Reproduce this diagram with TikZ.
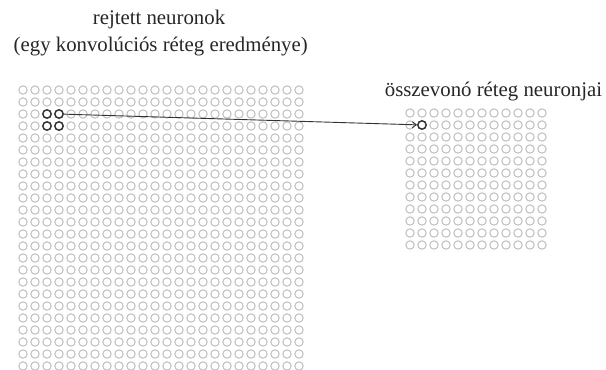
\documentclass[tikz,border=0pt]{standalone}
\usepackage{fontspec}
\setmainfont{Liberation Serif}
\usetikzlibrary{arrows.meta}
\begin{document}
\begin{tikzpicture}[x=1pt,y=-1pt,
  neuron/.style={circle,draw=black!25,line width=1pt,minimum size=8.4pt,inner sep=0pt},
  active/.style={draw=black!80,line width=1.5pt},
  lbl/.style={font=\fontsize{20.8}{27}\selectfont,text=black!85,inner sep=0pt,anchor=base},
  link/.style={draw=black!80,line width=0.9pt,-{Straight Barb[length=4pt,width=6pt]}}]
\useasboundingbox (0,0) rectangle (606,370);
% hidden layer 24x24
\foreach \i in {0,...,23}{\foreach \j in {0,...,23}{
  \pgfmathtruncatemacro\on{and(\i>1,\i<4)*and(\j>1,\j<4)}
  \ifnum\on=1
    \node[neuron,active] (h-\i-\j) at ({23+12*\i},{90+12*\j}) {};
  \else
    \node[neuron] (h-\i-\j) at ({23+12*\i},{90+12*\j}) {};
  \fi
}}
% pooling layer 12x12
\foreach \i in {0,...,11}{\foreach \j in {0,...,11}{
  \pgfmathtruncatemacro\on{and(\i==1,\j==1)}
  \ifnum\on=1
    \node[neuron,active] (p-\i-\j) at ({410+12*\i},{113+12*\j}) {};
  \else
    \node[neuron] (p-\i-\j) at ({410+12*\i},{113+12*\j}) {};
  \fi
}}
\node[lbl] (t1) at (159,24.5) {rejtett neuronok};
\node[lbl] (t2) at (160.7,51.5) {(egy konvolúciós réteg eredménye)};
\node[lbl] (t3) at (493.5,96.5) {összevonó réteg neuronjai};
\draw[link] (h-3-2) -- (p-1-1);
\end{tikzpicture}
\end{document}
